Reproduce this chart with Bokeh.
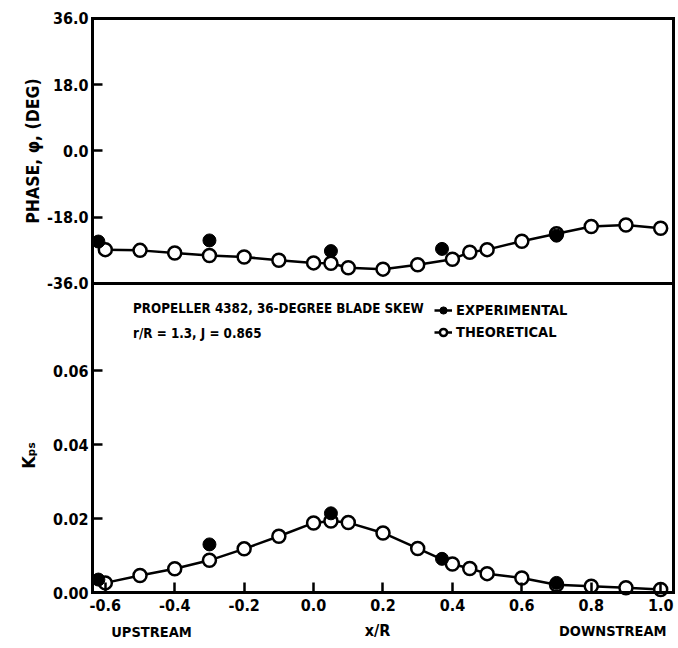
from bokeh.plotting import figure
from bokeh.models import (Range1d, LinearAxis, FixedTicker, PrintfTickFormatter,
                          Label, Legend, LegendItem)
from bokeh.embed import file_html
from bokeh.resources import INLINE

# ---------------- data ----------------
x_theory = [-0.6, -0.5, -0.4, -0.3, -0.2, -0.1, 0.0, 0.05, 0.1, 0.2, 0.3,
            0.4, 0.45, 0.5, 0.6, 0.7, 0.8, 0.9, 1.0]
phase_theory = [-26.8, -27.0, -27.7, -28.4, -28.8, -29.7, -30.4, -30.5, -31.7,
                -32.1, -30.9, -29.4, -27.5, -26.8, -24.5, -22.5, -20.5, -20.1, -21.0]
kps_theory = [0.0026, 0.0046, 0.0064, 0.0087, 0.0118, 0.0152, 0.0188, 0.0193,
              0.0189, 0.0161, 0.0119, 0.0077, 0.0065, 0.0051, 0.0039, 0.0021,
              0.0017, 0.0013, 0.0008]

x_exp = [-0.62, -0.3, 0.05, 0.37, 0.7]
phase_exp = [-24.6, -24.3, -27.2, -26.6, -23.0]
kps_exp = [0.0035, 0.0130, 0.0214, 0.0091, 0.0026]

x_ticks = [-0.6, -0.4, -0.2, 0.0, 0.2, 0.4, 0.6, 0.8, 1.0]
phase_ticks = [-36.0, -18.0, 0.0, 18.0, 36.0]
kps_ticks = [0.0, 0.02, 0.04, 0.06]

# panel limits
X_LO, X_HI = -0.637, 1.037
PH_LO, PH_HI = -36.0, 36.0
K_LO, K_HI = 0.0, 0.0835

# ---------------- styling ----------------
FONT = "DejaVu Sans Condensed"
LW = 2.5

p = figure(width=676, height=642,
           x_range=Range1d(-0.902, 1.0456), y_range=Range1d(-0.01351, 0.1600),
           x_axis_location=None, y_axis_location=None,
           output_backend="svg", toolbar_location=None, min_border=0,
           background_fill_color="white", border_fill_color="white")
p.extra_y_ranges = {"phase": Range1d(-133.54, 40.89)}
p.grid.visible = False
p.outline_line_color = None


def style_axis(ax, labels=True):
    ax.major_tick_in = 10
    ax.major_tick_out = 0
    ax.minor_tick_line_color = None
    ax.major_tick_line_width = LW
    ax.major_tick_line_color = "black"
    ax.axis_line_width = 3
    ax.axis_line_color = "black"
    ax.axis_line_cap = "square"
    ax.major_label_text_font = FONT
    ax.major_label_text_font_size = "16px"
    ax.major_label_text_font_style = "bold"
    ax.major_label_text_color = "black"
    ax.major_label_standoff = 4
    if not labels:
        ax.ticker = FixedTicker(ticks=[])
        ax.major_label_text_color = None


# bottom axis (x/R)
xa = LinearAxis(fixed_location=K_LO, bounds=(X_LO, X_HI),
                ticker=FixedTicker(ticks=x_ticks),
                formatter=PrintfTickFormatter(format="%.1f"))
style_axis(xa)
xa.major_label_standoff = 6
p.add_layout(xa, "below")

# K axis (lower panel)
ka = LinearAxis(fixed_location=X_LO, bounds=(K_LO, K_HI),
                ticker=FixedTicker(ticks=kps_ticks),
                formatter=PrintfTickFormatter(format="%.2f"))
style_axis(ka)
p.add_layout(ka, "left")

# phase axis (upper panel)
pa = LinearAxis(y_range_name="phase", fixed_location=X_LO, bounds=(PH_LO, PH_HI),
                ticker=FixedTicker(ticks=phase_ticks),
                formatter=PrintfTickFormatter(format="%.1f"))
style_axis(pa)
p.add_layout(pa, "left")

# frame edges: right side, top edge and the divider between the panels
for rng, bnds in (("default", (K_LO, K_HI)), ("phase", (PH_LO, PH_HI))):
    r = LinearAxis(y_range_name=rng, fixed_location=X_HI, bounds=bnds)
    style_axis(r, labels=False)
    p.add_layout(r, "right")
for loc in (PH_HI, PH_LO):
    t = LinearAxis(y_range_name="phase", fixed_location=loc, bounds=(X_LO, X_HI))
    style_axis(t, labels=False)
    p.add_layout(t, "above")

# ---------------- series ----------------
th_line = p.line(x_theory, phase_theory, y_range_name="phase",
                 line_color="black", line_width=LW)
th_pts = p.scatter(x_theory, phase_theory, y_range_name="phase", marker="circle",
                   size=13, fill_color="white", line_color="black", line_width=LW)
ex_pts = p.scatter(x_exp, phase_exp, y_range_name="phase", marker="circle",
                   size=13, fill_color="black", line_color="black", line_width=1)

p.line(x_theory, kps_theory, line_color="black", line_width=LW)
p.scatter(x_theory, kps_theory, marker="circle", size=13,
          fill_color="white", line_color="black", line_width=LW)
p.scatter(x_exp, kps_exp, marker="circle", size=13,
          fill_color="black", line_color="black", line_width=1)

# ---------------- legend ----------------
legend = Legend(items=[LegendItem(label="EXPERIMENTAL", renderers=[th_line, ex_pts]),
                       LegendItem(label="THEORETICAL", renderers=[th_line, th_pts])],
                location=(434, 301), orientation="vertical",
                padding=0, spacing=4, margin=0,
                glyph_width=18, glyph_height=18, label_height=18, label_standoff=4,
                label_text_font=FONT, label_text_font_size="14.5px",
                label_text_font_style="bold", label_text_color="black",
                border_line_color=None, background_fill_alpha=0)
p.add_layout(legend)

# ---------------- texts ----------------
def txt(x, y, s, size="14.5px", **kw):
    lab = Label(x=x, y=y, text=s, text_font=FONT, text_font_size=size,
                text_font_style="bold", text_color="black", **kw)
    p.add_layout(lab)

txt(-0.52, 0.0768, "PROPELLER 4382, 36-DEGREE BLADE SKEW", size="13.3px",
    text_baseline="middle")
txt(-0.52, 0.0700, "r/R = 1.3, J = 0.865", size="13.3px", text_baseline="middle")
txt(-0.467, -0.0108, "UPSTREAM", text_align="center", text_baseline="middle")
txt(0.184, -0.0103, "x/R", size="16px", text_align="center", text_baseline="middle")
txt(0.862, -0.0103, "DOWNSTREAM", text_align="center", text_baseline="middle")
txt(-0.807, 0.0, "PHASE, \u03c6, (DEG)", size="17.5px", text_align="center",
    text_baseline="middle", angle=1.5708, y_range_name="phase")
txt(-0.821, 0.037, "K\u209a\u209b", size="18px", text_align="center",
    text_baseline="middle", angle=1.5708)

open("out.html", "w").write(file_html(p, INLINE))
